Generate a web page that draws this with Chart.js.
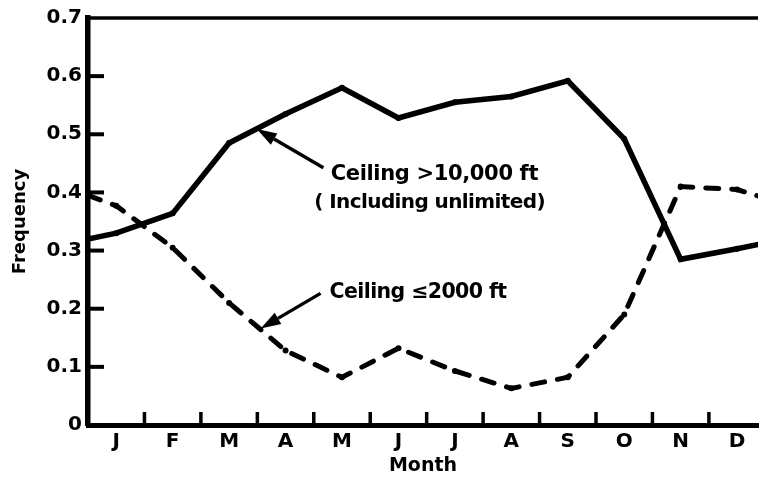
<!DOCTYPE html>
<html><head><meta charset="utf-8">
<script src="https://cdn.jsdelivr.net/npm/chart.js@4"></script>
<style>html,body{margin:0;padding:0;background:#fff}#c{display:block}</style>
</head><body>
<canvas id="c" width="762" height="482"></canvas>
<script>
// ---- data ----
const months = ['J','F','M','A','M','J','J','A','S','O','N','D'];
const monthCenters = [0.5,1.5,2.5,3.5,4.5,5.5,6.5,7.5,8.5,9.5,10.5,11.5];
const monthBoundaries = [1,2,3,4,5,6,7,8,9,10,11];
const edgeX = [0, 12];
const ceilingHigh = [0.33,0.364,0.485,0.535,0.58,0.528,0.555,0.565,0.592,0.492,0.285,0.303];
const ceilingHighEdges = [0.32, 0.313];
const ceilingLow = [0.377,0.305,0.21,0.128,0.082,0.132,0.093,0.063,0.082,0.19,0.41,0.405];
const ceilingLowEdges = [0.395, 0.39];
const yTickLabels = ['0','0.1','0.2','0.3','0.4','0.5','0.6','0.7'];

function buildPoints(vals, edges){
  const pts = [{x: edgeX[0], y: edges[0]}];
  vals.forEach((v,i)=>pts.push({x: monthCenters[i], y: v}));
  pts.push({x: edgeX[1], y: edges[1]});
  return pts;
}

const FONT = '"DejaVu Sans", "Liberation Sans", Arial, sans-serif';

const frameAndNotes = {
  id: 'frameAndNotes',
  afterDraw(chart, args, opts){
    const ctx = chart.ctx, xs = chart.scales.x, ys = chart.scales.y, a = chart.chartArea;
    ctx.save();
    ctx.strokeStyle = '#000'; ctx.fillStyle = '#000';
    // top frame line
    ctx.lineWidth = 3.5;
    ctx.beginPath(); ctx.moveTo(a.left, a.top); ctx.lineTo(a.right, a.top); ctx.stroke();
    // inward month boundary ticks
    ctx.lineWidth = 3.5;
    monthBoundaries.forEach(b=>{
      const px = xs.getPixelForValue(b);
      ctx.beginPath(); ctx.moveTo(px, a.bottom); ctx.lineTo(px, a.bottom - 13); ctx.stroke();
    });
    // inward y ticks
    ctx.lineWidth = 4;
    ys.ticks.forEach(t=>{
      if (t.value <= 0 || t.value >= ys.max - 1e-9) return;
      const py = ys.getPixelForValue(t.value);
      ctx.beginPath(); ctx.moveTo(a.left, py); ctx.lineTo(a.left + 16, py); ctx.stroke();
    });
    // arrows
    opts.arrows.forEach(ar=>{
      const x1 = xs.getPixelForValue(ar.from[0]), y1 = ys.getPixelForValue(ar.from[1]);
      const x2 = xs.getPixelForValue(ar.to[0]), y2 = ys.getPixelForValue(ar.to[1]);
      const ang = Math.atan2(y2-y1, x2-x1);
      const hl = 20, hw = 6.5;
      const bx = x2 - hl*Math.cos(ang), by = y2 - hl*Math.sin(ang);
      ctx.lineWidth = 3.4;
      ctx.beginPath(); ctx.moveTo(x1,y1); ctx.lineTo(bx,by); ctx.stroke();
      ctx.beginPath();
      ctx.moveTo(x2,y2);
      ctx.lineTo(bx + hw*Math.sin(ang), by - hw*Math.cos(ang));
      ctx.lineTo(bx - hw*Math.sin(ang), by + hw*Math.cos(ang));
      ctx.closePath(); ctx.fill();
    });
    // labels
    ctx.textBaseline = 'middle'; ctx.textAlign = 'left';
    opts.labels.forEach(l=>{
      ctx.font = 'bold ' + l.size + 'px ' + FONT;
      if ('letterSpacing' in ctx) ctx.letterSpacing = (l.spacing||0) + 'px';
      ctx.fillText(l.text, xs.getPixelForValue(l.x), ys.getPixelForValue(l.y));
    });
    ctx.restore();
  }
};

new Chart(document.getElementById('c'), {
  type: 'line',
  data: {
    datasets: [
      {
        label: 'Ceiling >10,000 ft (including unlimited)',
        data: buildPoints(ceilingHigh, ceilingHighEdges),
        borderColor: '#000', backgroundColor: '#000',
        borderWidth: 5.5, pointRadius: 3, pointBorderWidth: 0,
        pointBackgroundColor: '#000', tension: 0, fill: false
      },
      {
        label: 'Ceiling ≤2000 ft',
        data: buildPoints(ceilingLow, ceilingLowEdges),
        borderColor: '#000', backgroundColor: '#000',
        borderWidth: 5, borderDash: [13, 13], borderCapStyle: 'round',
        pointRadius: 3, pointBorderWidth: 0,
        pointBackgroundColor: '#000', tension: 0, fill: false
      }
    ]
  },
  options: {
    responsive: false, animation: false, devicePixelRatio: 1,
    layout: { padding: { top: 17, right: 0, left: 0, bottom: 0 } },
    plugins: {
      legend: { display: false }, tooltip: { enabled: false },
      frameAndNotes: {
        arrows: [
          { from: [4.17, 0.4425], to: [2.99, 0.509] },
          { from: [4.12, 0.2264], to: [3.06, 0.166] }
        ],
        labels: [
          { text: 'Ceiling >10,000 ft', x: 4.30, y: 0.4305, size: 21, spacing: -0.35 },
          { text: '( Including unlimited)', x: 4.01, y: 0.3825, size: 20, spacing: -0.6 },
          { text: 'Ceiling ≤2000 ft', x: 4.28, y: 0.228, size: 20.5, spacing: -0.6 }
        ]
      }
    },
    scales: {
      x: {
        type: 'linear', min: 0, max: 11.87,
        afterBuildTicks(scale){ scale.ticks = monthCenters.map(v=>({value: v})); },
        afterFit(scale){ scale.height = 57; },
        ticks: {
          autoSkip: false, maxRotation: 0, padding: 5, color: '#000',
          font: { family: FONT, size: 20, weight: 'bold' },
          callback: (v, i) => months[i]
        },
        grid: { display: false, drawTicks: false },
        border: { display: true, color: '#000', width: 5 },
        title: { display: true, text: 'Month', color: '#000', padding: { top: 0, bottom: 5 },
                 font: { family: FONT, size: 19, weight: 'bold' } }
      },
      y: {
        min: 0, max: 0.7,
        afterFit(scale){ scale.width = 88; },
        ticks: {
          stepSize: 0.1, padding: 6, color: '#000',
          font: { family: FONT, size: 20, weight: 'bold' },
          callback: (v, i) => yTickLabels[i]
        },
        grid: { display: false, drawTicks: false },
        border: { display: true, color: '#000', width: 5.5 },
        title: { display: true, text: 'Frequency', color: '#000', padding: { top: 10, bottom: 0 },
                 font: { family: FONT, size: 18, weight: 'bold' } }
      }
    }
  },
  plugins: [frameAndNotes]
});
</script>
</body></html>
